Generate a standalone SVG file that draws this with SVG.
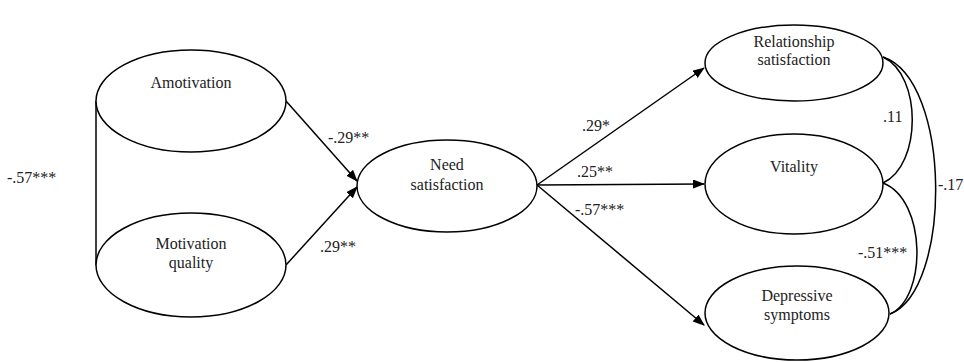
<svg xmlns="http://www.w3.org/2000/svg" width="964" height="362" viewBox="0 0 964 362" font-family="'Liberation Serif', 'DejaVu Serif', serif">
<style>
.n ellipse{fill:#fff;stroke:#000;stroke-width:1.5}
text{font-family:'Liberation Serif','DejaVu Serif',serif;font-size:16px;fill:#222}
.n text{text-anchor:middle}
.c line,.c path{stroke:#000;stroke-width:1.5;fill:none}
</style>
<defs>
<marker id="ah" markerWidth="12" markerHeight="10" refX="11" refY="4.5" orient="auto" markerUnits="userSpaceOnUse">
<path d="M0,0 L12,4.5 L0,9 Z" fill="#000"/>
</marker>
</defs>
<rect width="964" height="362" fill="#fff"/>
<g class="c">
<line x1="96" y1="101" x2="96" y2="265"/>
<line x1="286" y1="101" x2="357" y2="181" marker-end="url(#ah)"/>
<line x1="286" y1="265" x2="357" y2="187" marker-end="url(#ah)"/>
<line x1="537" y1="185" x2="704" y2="68" marker-end="url(#ah)"/>
<line x1="537" y1="185" x2="704" y2="184" marker-end="url(#ah)"/>
<line x1="537" y1="185" x2="704" y2="325" marker-end="url(#ah)"/>
<path d="M883,57 C922,75 922,165 883,183"/>
<path d="M883,57 C952,80 952,290 890,314"/>
<path d="M883,183 C927,200 927,298 890,314"/>
<text x="7" y="183">-.57***</text>
<text x="328" y="143">-.29**</text>
<text x="320" y="252">.29**</text>
<text x="582" y="131">.29*</text>
<text x="577" y="177">.25**</text>
<text x="575" y="215">-.57***</text>
<text x="883" y="122">.11</text>
<text x="858" y="258">-.51***</text>
<text x="938" y="190">-.17</text>
</g>
<g id="amotivation" class="n">
<ellipse cx="191" cy="101" rx="95" ry="51"/>
<text x="191" y="88">Amotivation</text>
</g>
<g id="motivation-quality" class="n">
<ellipse cx="191" cy="265" rx="95" ry="52"/>
<text x="191" y="249">Motivation</text>
<text x="191" y="268">quality</text>
</g>
<g id="need-satisfaction" class="n">
<ellipse cx="447" cy="186" rx="90" ry="46"/>
<text x="447" y="170">Need</text>
<text x="447" y="190">satisfaction</text>
</g>
<g id="relationship-satisfaction" class="n">
<ellipse cx="794" cy="63" rx="89" ry="38"/>
<text x="794" y="47">Relationship</text>
<text x="794" y="65">satisfaction</text>
</g>
<g id="vitality" class="n">
<ellipse cx="794" cy="184" rx="89" ry="50"/>
<text x="794" y="172">Vitality</text>
</g>
<g id="depressive-symptoms" class="n">
<ellipse cx="797" cy="313" rx="92" ry="47"/>
<text x="797" y="301">Depressive</text>
<text x="797" y="320">symptoms</text>
</g>
</svg>
